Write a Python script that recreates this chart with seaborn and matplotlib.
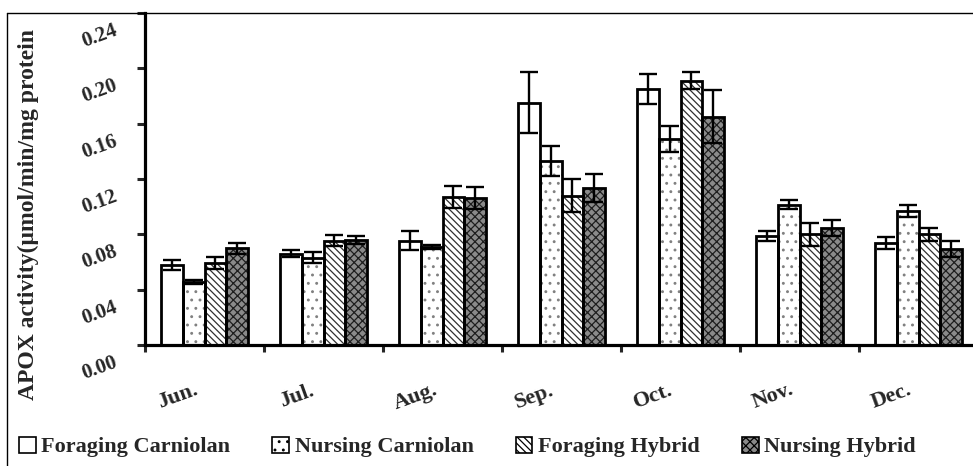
import numpy as np
import pandas as pd
import matplotlib
matplotlib.use("Agg")
import matplotlib.pyplot as plt
from matplotlib.patches import Patch, Rectangle
from matplotlib.lines import Line2D
from matplotlib.transforms import ScaledTranslation
import seaborn as sns

# Monthly APOX activity of the four bee groups (mean and error)
months = ["Jun.", "Jul.", "Aug.", "Sep.", "Oct.", "Nov.", "Dec."]
groups = ["Foraging Carniolan", "Nursing Carniolan", "Foraging Hybrid", "Nursing Hybrid"]

foraging_carniolan = [0.058, 0.066, 0.0755, 0.175, 0.185, 0.079, 0.074]
foraging_carniolan_err = [0.0036, 0.0026, 0.0068, 0.022, 0.011, 0.0037, 0.0043]
nursing_carniolan = [0.0455, 0.063, 0.071, 0.133, 0.149, 0.1015, 0.097]
nursing_carniolan_err = [0.0015, 0.004, 0.0015, 0.0105, 0.0095, 0.003, 0.0043]
foraging_hybrid = [0.0595, 0.0755, 0.107, 0.108, 0.191, 0.080, 0.080]
foraging_hybrid_err = [0.0043, 0.004, 0.008, 0.012, 0.006, 0.0083, 0.0045]
nursing_hybrid = [0.070, 0.076, 0.106, 0.1135, 0.165, 0.0845, 0.0695]
nursing_hybrid_err = [0.004, 0.003, 0.008, 0.010, 0.019, 0.006, 0.006]

y_ticks = [0.00, 0.04, 0.08, 0.12, 0.16, 0.20, 0.24]
y_label = "APOX activity(\u03bcmol/min/mg protein"

means = [foraging_carniolan, nursing_carniolan, foraging_hybrid, nursing_hybrid]
errors = [foraging_carniolan_err, nursing_carniolan_err, foraging_hybrid_err, nursing_hybrid_err]

df = pd.DataFrame({
    "month": np.tile(months, len(groups)),
    "group": np.repeat(groups, len(months)),
    "value": np.concatenate(means),
    "err": np.concatenate(errors),
})

# Fill styles per group
face_colors = ["white", "white", "white", "#8a8a8a"]
hatches = ["", "..", "\\\\\\\\\\", "xxxx"]
hatch_colors = ["black", "#808080", "#303030", "#1e1e1e"]

sns.set_style("white")
plt.rcParams["font.family"] = ["Liberation Serif", "DejaVu Serif"]
plt.rcParams["font.weight"] = "bold"
plt.rcParams["hatch.linewidth"] = 0.9

W, H, DPI = 973, 466, 100
fig = plt.figure(figsize=(W / DPI, H / DPI), dpi=DPI)
ax_left, ax_right, ax_bottom, ax_top = 145, 978, 345, 13
ax = fig.add_axes([ax_left / W, 1 - ax_bottom / H,
                   (ax_right - ax_left) / W, (ax_bottom - ax_top) / H])

sns.barplot(data=df, x="month", y="value", hue="group", order=months,
            hue_order=groups, palette=face_colors, saturation=1, width=0.73,
            gap=0, errorbar=None, legend=False, ax=ax)

bar_containers = list(ax.containers)
for i, container in enumerate(bar_containers):
    for patch in container.patches:
        patch.set_hatch(hatches[i])
        patch.set_edgecolor(hatch_colors[i])
        patch.set_linewidth(0)
        ax.add_patch(Rectangle(patch.get_xy(), patch.get_width(), patch.get_height(),
                               fill=False, edgecolor="black", linewidth=2.0,
                               zorder=patch.get_zorder() + 0.1))
    xs = [p.get_x() + p.get_width() / 2 for p in container.patches]
    ys = [p.get_height() for p in container.patches]
    ax.errorbar(xs, ys, yerr=errors[i], fmt="none", ecolor="black",
                elinewidth=1.7, capsize=6.8, capthick=1.7, zorder=5)

ax.set_xlim(-0.5, 6.5)
ax.set_ylim(0, 0.24)
ax.set_yticks(y_ticks)
ax.set_yticklabels([f"{v:.2f}" for v in y_ticks])
ax.set_xticks(range(len(months)))
ax.set_xticklabels(months)
ax.set_xticks(np.arange(-0.5, len(months), 1.0), minor=True)

for side in ["top", "right"]:
    ax.spines[side].set_visible(False)
for side in ["left", "bottom"]:
    ax.spines[side].set_linewidth(2.3)
    ax.spines[side].set_color("black")

ax.tick_params(axis="y", which="major", direction="out", length=6, width=2.2,
               pad=27, labelsize=15, left=True)
ax.tick_params(axis="x", which="major", length=0, pad=37, labelsize=16)
ax.tick_params(axis="x", which="minor", direction="out", length=5, width=2.2,
               bottom=True)

for lab in ax.get_yticklabels():
    lab.set_rotation(20)
    lab.set_ha("center")
    lab.set_va("center")
    lab.set_fontweight("bold")
    lab.set_transform(lab.get_transform() + ScaledTranslation(0, -23 / DPI, fig.dpi_scale_trans))
for lab in ax.get_xticklabels():
    lab.set_rotation(20)
    lab.set_ha("center")
    lab.set_va("center")
    lab.set_fontweight("bold")
    lab.set_transform(lab.get_transform() + ScaledTranslation(-27 / DPI, 0, fig.dpi_scale_trans))

ax.set_xlabel("")
ax.set_ylabel(y_label, fontsize=17, fontweight="bold", ha="center", va="center")
ax.yaxis.set_label_coords((28 - ax_left) / (ax_right - ax_left),
                          (ax_bottom - 215) / (ax_bottom - ax_top))

# Outer frame lines (left and top)
fig.add_artist(Line2D([7 / W, 7 / W], [0, 1 - 13 / H], color="black", lw=1.0))
fig.add_artist(Line2D([7 / W, 1], [1 - 13 / H, 1 - 13 / H], color="black", lw=1.0))

handles = [Patch(facecolor=face_colors[i], edgecolor="black", hatch=hatches[i], linewidth=1.2)
           for i in range(len(groups))]
fig.legend(handles, groups, loc="center left", bbox_to_anchor=(10 / W, 1 - 447 / H),
           ncol=4, frameon=False, handlelength=0.75, handleheight=0.75,
           handletextpad=0.25, columnspacing=1.9, borderaxespad=0,
           prop={"family": "Liberation Serif", "weight": "bold", "size": 16})

fig.savefig("out.png", dpi=DPI)
